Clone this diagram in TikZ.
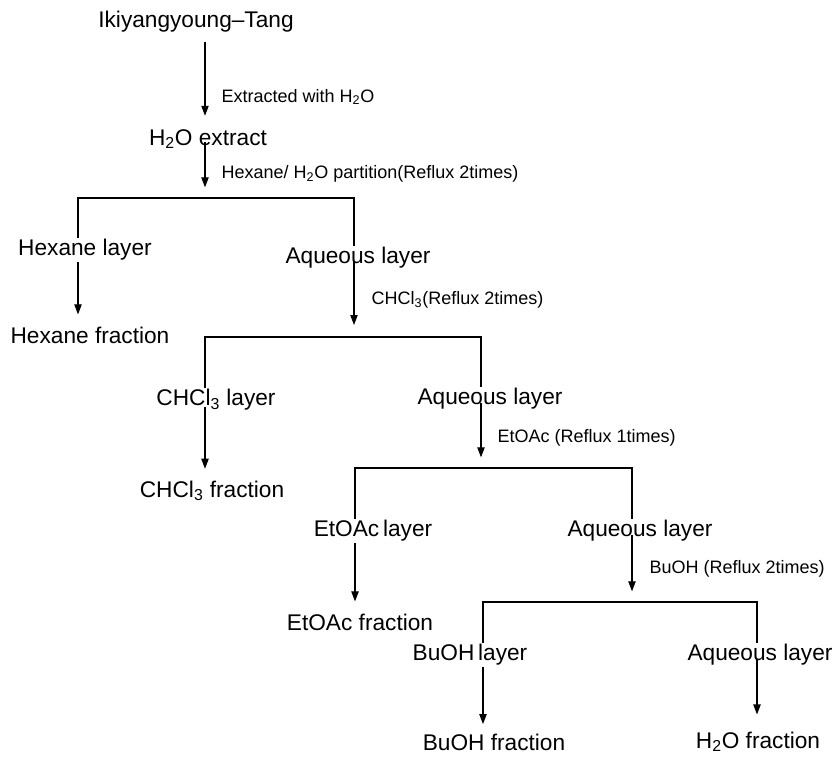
\documentclass[tikz,border=0pt]{standalone}
\usepackage{fontspec}
\setmainfont{Liberation Sans}
\usetikzlibrary{arrows.meta}

\begin{document}
\begin{tikzpicture}[x=0.75pt, y=-0.75pt,
    >={Triangle[length=7.5pt,width=5.5pt]},
    every node/.style={inner sep=1pt},
    step name/.style={font=\fontsize{17}{20}\selectfont},
    cond/.style={font=\fontsize{13.5}{16}\selectfont, anchor=west},
    flow/.style={->, line width=0.8pt},
    fork/.style={line width=0.8pt}]
  \useasboundingbox (0,0) rectangle (839,758);
  % split points of the partitions
  \coordinate (s1) at (205,198);
  \coordinate (s2) at (354,337);
  \coordinate (s3) at (481,468);
  \coordinate (s4) at (632,602);
  % nodes
  \node[step name] (herb) at (196,22) {Ikiyangyoung--Tang};
  \node[step name] (extr) at (208,139) {H\textsubscript{2}O extract};
  \node[step name] (hexl) at (85,250) {Hexane layer};
  \node[step name] (hexf) at (90,335) {Hexane fraction};
  \node[step name] (aqa) at (358,258) {Aqueous layer};
  \node[step name] (chll) at (216,400) {CHCl\textsubscript{3} layer};
  \node[step name] (chlf) at (212,491) {CHCl\textsubscript{3} fraction};
  \node[step name] (aqb) at (490,399) {Aqueous layer};
  \node[step name] (etl) at (373,531) {EtOAc\,layer};
  \node[step name] (etf) at (360,622) {EtOAc fraction};
  \node[step name] (aqc) at (640,531) {Aqueous layer};
  \node[step name] (bul) at (470,655) {BuOH\,layer};
  \node[step name] (buf) at (494,742) {BuOH fraction};
  \node[step name] (aqd) at (760,655) {Aqueous layer};
  \node[step name] (watf) at (758,742) {H\textsubscript{2}O fraction};
  % conditions
  \node[cond] (c1) at (220,97) {Extracted with H\textsubscript{2}O};
  \node[cond] (c2) at (220,174) {Hexane/ H\textsubscript{2}O partition(Reflux 2times)};
  \node[cond] (c3) at (370,300) {CHCl\textsubscript{3}(Reflux 2times)};
  \node[cond] (c4) at (496,438) {EtOAc (Reflux 1times)};
  \node[cond] (c5) at (648,569) {BuOH (Reflux 2times)};
  % main line
  \draw[flow, shorten <=6pt, shorten >=9pt] (herb.south -| s1) -- (extr.north -| s1);
  \draw[flow, shorten <=-6pt, shorten >=8pt] (extr.south -| s1) -- (s1);
  \draw[flow, shorten <=-6pt, shorten >=9pt] (aqa.south -| s2) -- (s2);
  \draw[flow, shorten <=-6pt, shorten >=8pt] (aqb.south -| s3) -- (s3);
  \draw[flow, shorten <=-6pt, shorten >=8pt] (aqc.south -| s4) -- (s4);
  % forks
  \draw[fork] (hexl.north -| 78,0) |- (s1) -| (aqa.north -| s2);
  \draw[fork] (chll.north -| 205,0) |- (s2) -| (aqb.north -| s3);
  \draw[fork] (etl.north -| 355,0) |- (s3) -| (aqc.north -| s4);
  \draw[fork] (bul.north -| 483,0) |- (s4) -| (aqd.north -| 757,0);
  % fractions
  \draw[flow, shorten >=8pt] (hexl.south -| 78,0) -- (hexf.north -| 78,0);
  \draw[flow, shorten <=-4pt, shorten >=8pt] (chll.south -| 205,0) -- (chlf.north -| 205,0);
  \draw[flow, shorten >=8pt] (etl.south -| 355,0) -- (etf.north -| 355,0);
  \draw[flow, shorten >=6pt] (bul.south -| 483,0) -- (buf.north -| 483,0);
  \draw[flow, shorten <=-6pt, shorten >=12pt] (aqd.south -| 757,0) -- (watf.north -| 757,0);
\end{tikzpicture}
\end{document}
